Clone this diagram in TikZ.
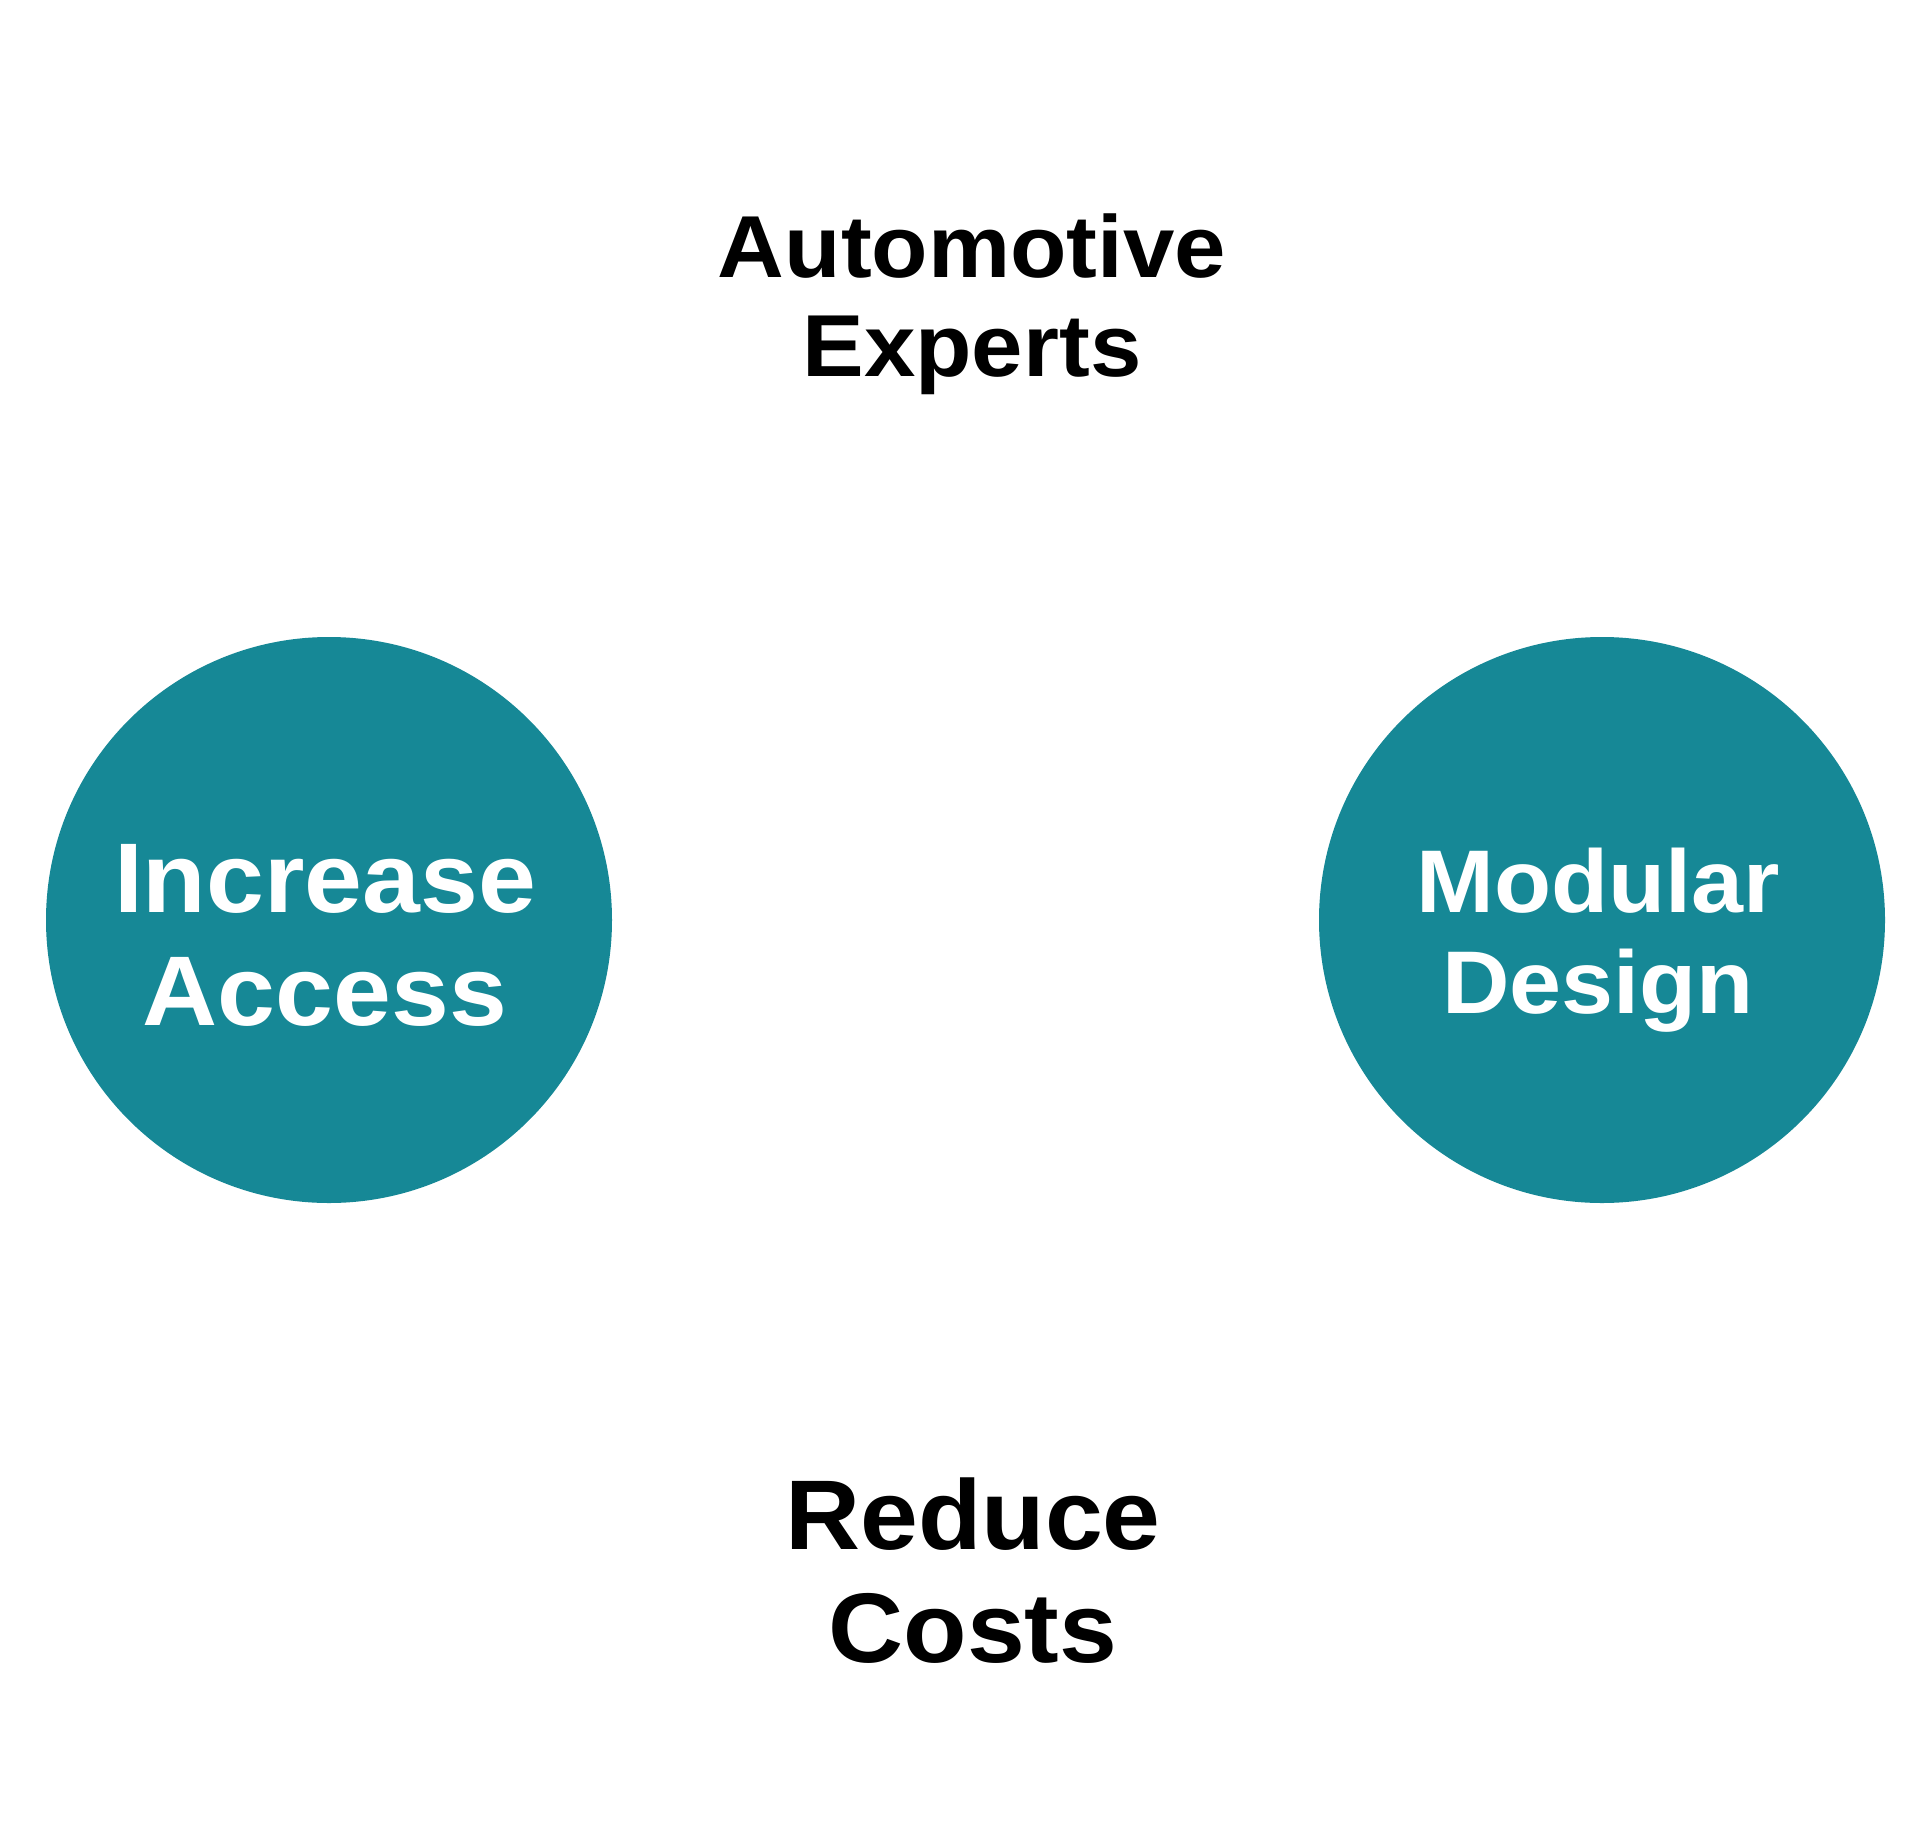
\documentclass[tikz,border=0pt]{standalone}
\usepackage{fontspec}
\newfontfamily\labfont{Liberation Sans}[FakeStretch=1.05]
\definecolor{tealc}{HTML}{168896}
\begin{document}
\begin{tikzpicture}[x=1pt,y=-1pt,
  disc/.style={circle,fill=tealc,draw=none,minimum size=566pt,inner sep=0pt},
  lab/.style={align=center,inner sep=0pt,anchor=base},
  big/.style={font=\labfont\bfseries\fontsize{99}{113}\selectfont},
  mid/.style={font=\labfont\bfseries\fontsize{88}{99}\selectfont},
  modf/.style={font=\labfont\bfseries\fontsize{89}{101}\selectfont}]
\useasboundingbox[fill=white] (0,0) rectangle (1920,1839);
\node[disc] (left) at (329,920) {};
\node[disc] (right) at (1602,920) {};
\node[lab,mid,text=black] (auto) at (972,376) {Automotive\\Experts};
\node[lab,big,text=black] (costs) at (973,1662) {Reduce\\Costs};
\node[lab,big,text=white] (inc) at (325,1025) {Increase\\Access};
\node[lab,modf,text=white] (mod) at (1598,1013) {Modular\\Design};
\end{tikzpicture}
\end{document}
